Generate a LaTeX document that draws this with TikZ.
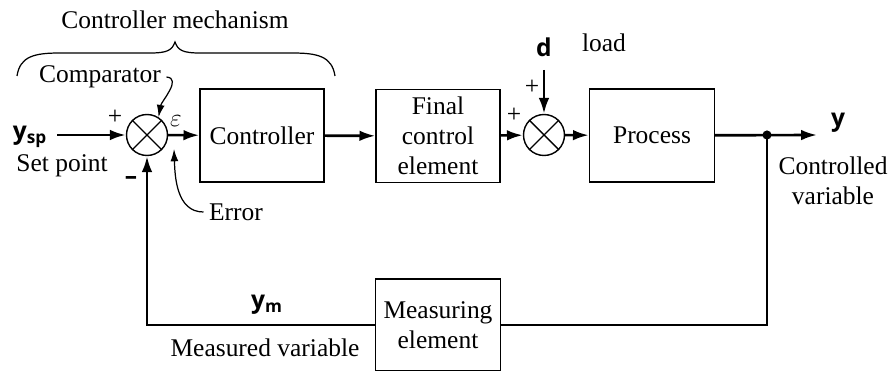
\documentclass[tikz,border=0pt]{standalone}
\usepackage{fontspec}
\setmainfont{Liberation Serif}
\newfontfamily\lblfont{Open Sans}
\usetikzlibrary{arrows.meta,positioning}

\tikzset{
  block/.style={draw, line width=0.8pt, minimum width=2.48cm, minimum height=1.86cm, align=center, inner sep=1pt, font=\fontsize{14.5}{17}\selectfont},
  summer/.style={draw, circle, line width=0.8pt, minimum size=0.82cm, inner sep=0pt},
  sig/.style={line width=1.5pt, -{Latex[length=9pt,width=6pt]}},
  pointer/.style={line width=0.7pt, -{Latex[length=7pt,width=4.5pt]}},
  txt/.style={font=\fontsize{14.5}{17}\selectfont, align=center, inner sep=0pt},
  var/.style={font=\lblfont\bfseries\fontsize{14}{17}\selectfont, inner sep=0pt},
}

\begin{document}
\begin{tikzpicture}[x=0.02cm,y=-0.02cm]
    \useasboundingbox (0,0) rectangle (890,371);
    % blocks
    \node [summer] (cmp) at (147,135) {};
    \draw [line width=0.8pt] (cmp.45) -- (cmp.225) (cmp.135) -- (cmp.315);
    \node [block] (ctrl) at (262,135.5) {Controller};
    \node [block] (fce) at (438,136) {Final\\control\\element};
    \node [summer] (sum) at (544,135) {};
    \draw [line width=0.8pt] (sum.45) -- (sum.225) (sum.135) -- (sum.315);
    \node [block, minimum width=2.5cm] (proc) at (652,135.5) {Process};
    \node [block, minimum width=2.5cm, minimum height=1.84cm] (meas) at (438,325) {Measuring\\element};
    % signal lines
    \coordinate (spin) at (57,135);
    \coordinate (dtop) at (544,70);
    \coordinate (dot) at (767,135);
    \coordinate (yend) at (817,135);
    \coordinate (fbr) at (767,325);
    \coordinate (fbl) at (147,325);
    \draw [sig] (spin) -- (cmp);
    \draw [sig] (cmp) -- (ctrl);
    \draw [sig] (ctrl) -- (fce);
    \draw [sig] (fce) -- (sum);
    \draw [sig] (sum) -- (proc);
    \draw [sig] (dtop) -- (sum);
    \draw [sig] (proc) -- (yend);
    \fill (dot) circle (2.6pt);
    \draw [line width=1.5pt] (dot) -- (fbr) -- (meas);
    \draw [sig] (meas) -- (fbl) -- (cmp);
    % signal names
    \node [var] (ysp) at (30,137) {y\textsubscript{sp}};
    \node [var] (d) at (544,47) {d};
    \node [var] (y) at (838,123) {y};
    \node [var] (ym) at (267,305) {y\textsubscript{m}};
    \node [var] (minus) at (131,181) {\textendash};
    % signs
    \node [txt] (p1) at (115,117) {+};
    \node [txt] (p2) at (514,115) {+};
    \node [txt] (p3) at (532,87) {+};
    \node [txt] (eps) at (176,121) {$\varepsilon$};
    % labels
    \node [txt] (setp) at (62,166) {Set point};
    \node [txt] (load) at (604,43) {load};
    \node [txt] (cvar) at (833,181) {Controlled\\variable};
    \node [txt] (mvar) at (265,348) {Measured variable};
    \node [txt] (clabel) at (100,77) {Comparator};
    \node [txt] (elabel) at (236,212) {Error};
    \node [txt] (mech) at (175,20) {Controller mechanism};
    \coordinate (errpt) at (174,149);
    \draw [pointer] ([xshift=3pt]clabel.east) to [out=-5, in=80] (cmp.57);
    \draw [pointer] ([xshift=-3pt]elabel.west) to [out=180, in=-88] (errpt);
    % brace
    \draw [line width=0.7pt] (17,76) .. controls (20,56) and (35,53) .. (60,53) -- (150,53)
        .. controls (168,53) and (172,50) .. (175,42) .. controls (178,50) and (182,53) .. (200,53)
        -- (292,53) .. controls (317,53) and (332,56) .. (335,76);
\end{tikzpicture}
\end{document}
